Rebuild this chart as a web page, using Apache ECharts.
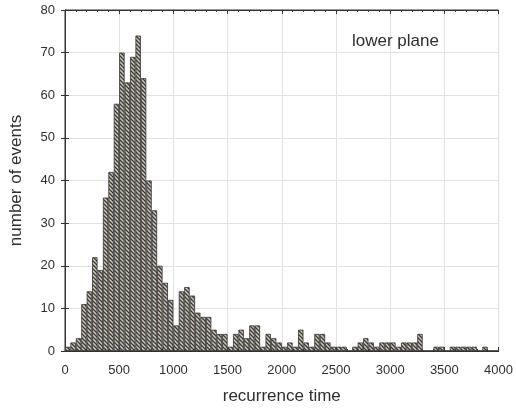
<!DOCTYPE html>
<html>
<head>
<meta charset="utf-8">
<script src="https://cdn.jsdelivr.net/npm/echarts@6/dist/echarts.min.js"></script>
<style>
  html, body { margin: 0; padding: 0; background: #fff; }
  #chart { width: 516px; height: 413px; }
</style>
</head>
<body>
<div id="chart"></div>
<script>
// histogram, bins of 50 from 0 to 4000
var binWidth = 50;
var counts = [
  1, 2, 3, 11, 14, 22, 19, 36, 42, 58,
  70, 63, 69, 74, 64, 40, 33, 20, 16, 12,
  6, 14, 15, 13, 9, 8, 8, 5, 4, 4,
  1, 4, 5, 3, 6, 6, 1, 4, 3, 2,
  1, 2, 1, 5, 2, 1, 4, 4, 2, 1,
  1, 1, 0, 1, 2, 3, 2, 1, 2, 2,
  2, 1, 2, 2, 2, 4, 0, 0, 1, 1,
  0, 1, 1, 1, 1, 1, 0, 1, 0, 0
];
var bins = counts.map(function (c, i) { return String(i * binWidth); });
var xTicks = [0, 500, 1000, 1500, 2000, 2500, 3000, 3500, 4000];
var yTicks = [0, 10, 20, 30, 40, 50, 60, 70, 80];

// hatch fill like the printed figure
function hatch () {
  var c = document.createElement('canvas');
  c.width = 4; c.height = 4;
  var ctx = c.getContext('2d');
  ctx.fillStyle = '#cbc8c0';
  ctx.fillRect(0, 0, 4, 4);
  ctx.strokeStyle = '#3b3934';
  ctx.lineWidth = 1.3;
  ctx.beginPath();
  ctx.moveTo(-1, -1); ctx.lineTo(5, 5);
  ctx.moveTo(-1, 3); ctx.lineTo(1, 5);
  ctx.moveTo(3, -1); ctx.lineTo(5, 1);
  ctx.stroke();
  return c;
}

var font = 'Liberation Sans';
var chart = echarts.init(document.getElementById('chart'));
var option = {
  animation: false,
  textStyle: { fontFamily: font },
  title: {
    text: 'lower plane',
    left: 347, top: 28,
    textStyle: { fontFamily: font, fontSize: 17, fontWeight: 'normal', color: '#2e2e2e' }
  },
  grid: {
    left: 64, right: 16, top: 10, bottom: 62,
    show: true, borderColor: '#333', borderWidth: 1
  },
  xAxis: [{
    type: 'category',
    data: bins,
    position: 'bottom',
    show: false,
    boundaryGap: true
  }, {
    type: 'value',
    position: 'bottom',
    min: xTicks[0], max: xTicks[xTicks.length - 1], interval: 500,
    name: 'recurrence time',
    nameLocation: 'middle',
    nameGap: 37,
    nameTextStyle: { fontSize: 17, color: '#2e2e2e' },
    axisLine: { show: true, lineStyle: { color: '#333' } },
    axisTick: { show: true, inside: true, length: 4, lineStyle: { color: '#333' } },
    minorTick: { show: true, splitNumber: 5, length: 2, lineStyle: { color: '#333' } },
    axisLabel: { fontSize: 13, color: '#2e2e2e', margin: 13, formatter: function (v) { return String(v); } },
    splitLine: { show: true, lineStyle: { color: '#e2e2e2' } }
  }, {
    type: 'value',
    position: 'top',
    min: xTicks[0], max: xTicks[xTicks.length - 1], interval: 500,
    axisLine: { show: true, lineStyle: { color: '#333' } },
    axisTick: { show: true, inside: true, length: 4, lineStyle: { color: '#333' } },
    minorTick: { show: true, splitNumber: 5, length: 2, lineStyle: { color: '#333' } },
    axisLabel: { show: false },
    splitLine: { show: false }
  }],
  yAxis: [{
    type: 'value',
    position: 'left',
    min: yTicks[0], max: yTicks[yTicks.length - 1], interval: 10,
    name: 'number of events',
    nameLocation: 'middle',
    nameGap: 40,
    nameTextStyle: { fontSize: 17, color: '#2e2e2e' },
    axisLine: { show: true, lineStyle: { color: '#333' } },
    axisTick: { show: true, inside: true, length: 4, lineStyle: { color: '#333' } },
    axisLabel: { fontSize: 13, color: '#2e2e2e', margin: 10 },
    splitLine: { show: true, lineStyle: { color: '#e2e2e2' } }
  }, {
    type: 'value',
    position: 'right',
    min: yTicks[0], max: yTicks[yTicks.length - 1], interval: 10,
    axisLine: { show: true, lineStyle: { color: '#333' } },
    axisTick: { show: true, inside: true, length: 4, lineStyle: { color: '#333' } },
    axisLabel: { show: false },
    splitLine: { show: false }
  }],
  series: [{
    type: 'bar',
    xAxisIndex: 0,
    yAxisIndex: 0,
    data: counts,
    barWidth: '100%',
    barCategoryGap: 0,
    itemStyle: {
      color: { image: hatch(), repeat: 'repeat' },
      borderColor: '#34322f',
      borderWidth: 0.8
    }
  }]
};
chart.setOption(option);
</script>
</body>
</html>
